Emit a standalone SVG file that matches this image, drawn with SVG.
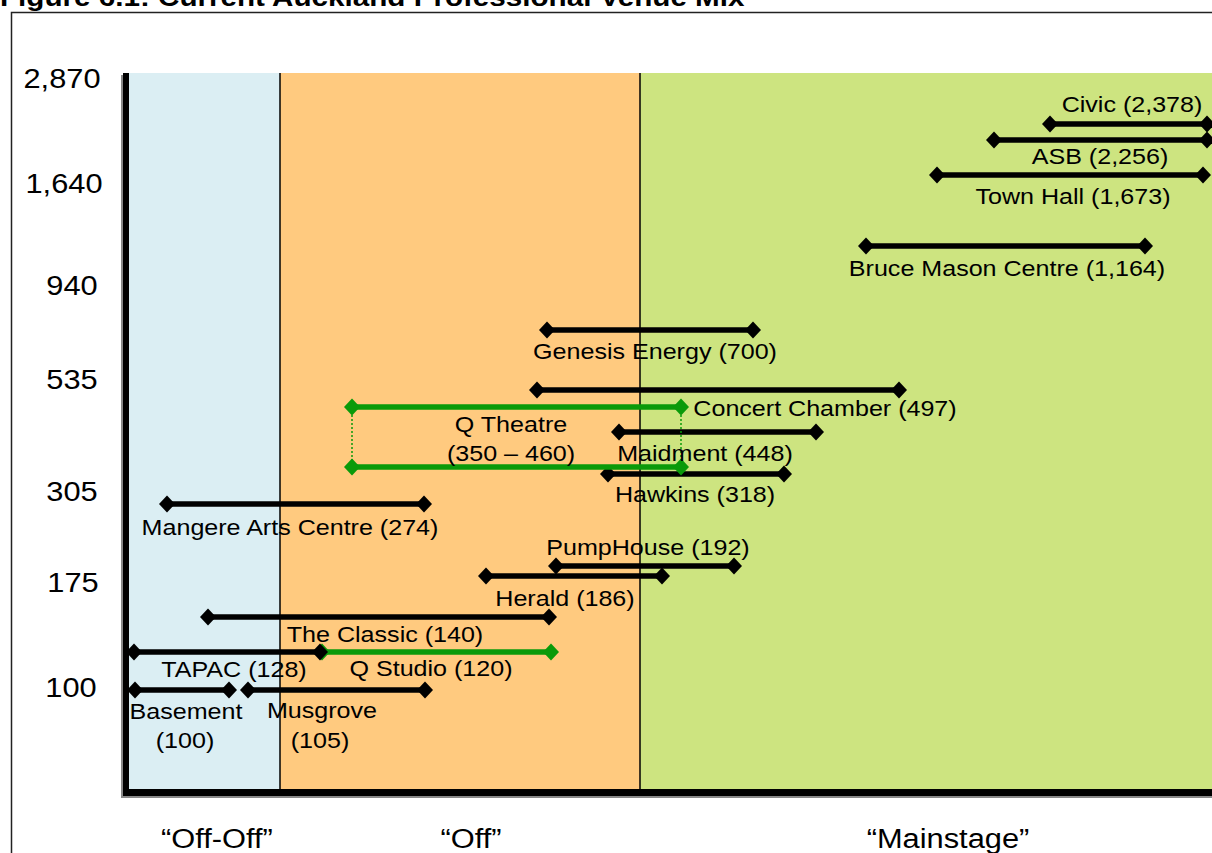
<svg xmlns="http://www.w3.org/2000/svg" xmlns:xlink="http://www.w3.org/1999/xlink" width="1212" height="853" viewBox="0 0 1212 853">
<style>
  text { font-family: "Liberation Sans", Arial, sans-serif; fill: #000; }
  .title { font-size: 26px; font-weight: bold; }
  .ax { font-size: 28px; text-anchor: middle; }
  .cat { font-size: 28px; text-anchor: middle; }
  .lb { font-size: 22px; text-anchor: middle; }
  .bar { stroke: #000; stroke-width: 5.5; fill: none; }
  .gbar { stroke: #0A9A0A; stroke-width: 5.5; fill: none; }
  .gdot { stroke: #0A9A0A; stroke-width: 1.5; stroke-dasharray: 2 2; fill: none; }
  .sep { stroke: #000; stroke-width: 1.5; }
</style>
<defs>
  <path id="dk" d="M0,-8.5 L8,0 L0,8.5 L-8,0 Z" fill="#000"/>
  <path id="dg" d="M0,-8.5 L8,0 L0,8.5 L-8,0 Z" fill="#0A9A0A"/>
</defs>
<rect x="0" y="0" width="1212" height="853" fill="#fff"/>
<text class="title" transform="translate(0,6) scale(1.14,1)">Figure 6.1: Current Auckland Professional Venue Mix</text>
<rect x="11.5" y="12.5" width="1220" height="900" fill="none" stroke="#222" stroke-width="1.5"/>

<g id="background">
  <rect x="129" y="73" width="151" height="716" fill="#DBEEF3"/>
  <rect x="280" y="73" width="360" height="716" fill="#FFCA7F"/>
  <rect x="640" y="73" width="572" height="716" fill="#CDE480"/>
  <line class="sep" x1="280" y1="73" x2="280" y2="789"/>
  <line class="sep" x1="640" y1="73" x2="640" y2="789"/>
</g>

<g id="axes">
  <rect x="121" y="75" width="6" height="723" fill="#888"/>
  <rect x="121" y="792" width="1091" height="6" fill="#888"/>
  <rect x="123" y="73" width="6" height="723" fill="#000"/>
  <rect x="123" y="789" width="1089" height="7" fill="#000"/>
  <text class="ax" transform="translate(62,88) scale(1.1,1)">2,870</text>
  <text class="ax" transform="translate(64,193) scale(1.1,1)">1,640</text>
  <text class="ax" transform="translate(72,295) scale(1.1,1)">940</text>
  <text class="ax" transform="translate(72,389) scale(1.1,1)">535</text>
  <text class="ax" transform="translate(72,501) scale(1.1,1)">305</text>
  <text class="ax" transform="translate(73,592) scale(1.1,1)">175</text>
  <text class="ax" transform="translate(71,697) scale(1.1,1)">100</text>
  <text class="cat" transform="translate(217,848) scale(1.1,1)">“Off-Off”</text>
  <text class="cat" transform="translate(471,848) scale(1.1,1)">“Off”</text>
  <text class="cat" transform="translate(948,848) scale(1.1,1)">“Mainstage”</text>
</g>

<g id="connectors">
  <g id="civic">
    <line class="bar" x1="1050" y1="124" x2="1207" y2="124"/>
    <use xlink:href="#dk" x="1050" y="124"/><use xlink:href="#dk" x="1207" y="124"/>
  </g>
  <g id="asb">
    <line class="bar" x1="994" y1="140" x2="1207" y2="140"/>
    <use xlink:href="#dk" x="994" y="140"/><use xlink:href="#dk" x="1207" y="140"/>
  </g>
  <g id="townhall">
    <line class="bar" x1="937" y1="175" x2="1203" y2="175"/>
    <use xlink:href="#dk" x="937" y="175"/><use xlink:href="#dk" x="1203" y="175"/>
  </g>
  <g id="brucemason">
    <line class="bar" x1="866" y1="246" x2="1145" y2="246"/>
    <use xlink:href="#dk" x="866" y="246"/><use xlink:href="#dk" x="1145" y="246"/>
  </g>
  <g id="genesis">
    <line class="bar" x1="547" y1="330" x2="753" y2="330"/>
    <use xlink:href="#dk" x="547" y="330"/><use xlink:href="#dk" x="753" y="330"/>
  </g>
  <g id="concertchamber">
    <line class="bar" x1="537" y1="390" x2="899" y2="390"/>
    <use xlink:href="#dk" x="537" y="390"/><use xlink:href="#dk" x="899" y="390"/>
  </g>
  <g id="maidment">
    <line class="bar" x1="619" y1="432" x2="816" y2="432"/>
    <use xlink:href="#dk" x="619" y="432"/><use xlink:href="#dk" x="816" y="432"/>
  </g>
  <g id="hawkins">
    <line class="bar" x1="608" y1="474" x2="784" y2="474"/>
    <use xlink:href="#dk" x="608" y="474"/><use xlink:href="#dk" x="784" y="474"/>
  </g>
  <g id="qtheatre">
    <line class="gdot" x1="352" y1="407" x2="352" y2="467"/>
    <line class="gdot" x1="681" y1="407" x2="681" y2="467"/>
    <line class="gbar" x1="352" y1="407" x2="681" y2="407"/>
    <use xlink:href="#dg" x="352" y="407"/><use xlink:href="#dg" x="681" y="407"/>
    <line class="gbar" x1="352" y1="467" x2="681" y2="467"/>
    <use xlink:href="#dg" x="352" y="467"/><use xlink:href="#dg" x="681" y="467"/>
  </g>
  <g id="mangere">
    <line class="bar" x1="167" y1="504" x2="424" y2="504"/>
    <use xlink:href="#dk" x="167" y="504"/><use xlink:href="#dk" x="424" y="504"/>
  </g>
  <g id="pumphouse">
    <line class="bar" x1="556" y1="566" x2="734" y2="566"/>
    <use xlink:href="#dk" x="556" y="566"/><use xlink:href="#dk" x="734" y="566"/>
  </g>
  <g id="herald">
    <line class="bar" x1="486" y1="576" x2="662" y2="576"/>
    <use xlink:href="#dk" x="486" y="576"/><use xlink:href="#dk" x="662" y="576"/>
  </g>
  <g id="classic">
    <line class="bar" x1="208" y1="617" x2="549" y2="617"/>
    <use xlink:href="#dk" x="208" y="617"/><use xlink:href="#dk" x="549" y="617"/>
  </g>
  <g id="qstudio">
    <line class="gbar" x1="322" y1="652" x2="551" y2="652"/>
    <use xlink:href="#dg" x="322" y="652"/><use xlink:href="#dg" x="551" y="652"/>
  </g>
  <g id="tapac">
    <line class="bar" x1="134" y1="652" x2="320" y2="652"/>
    <use xlink:href="#dk" x="134" y="652"/><use xlink:href="#dk" x="320" y="652"/>
  </g>
  <g id="basement">
    <line class="bar" x1="135" y1="690" x2="229" y2="690"/>
    <use xlink:href="#dk" x="135" y="690"/><use xlink:href="#dk" x="229" y="690"/>
  </g>
  <g id="musgrove">
    <line class="bar" x1="248" y1="690" x2="425" y2="690"/>
    <use xlink:href="#dk" x="248" y="690"/><use xlink:href="#dk" x="425" y="690"/>
  </g>
</g>

<g id="labels">
  <text class="lb" transform="translate(1132,112) scale(1.14,1)">Civic (2,378)</text>
  <text class="lb" transform="translate(1100,164) scale(1.14,1)">ASB (2,256)</text>
  <text class="lb" transform="translate(1073,204) scale(1.14,1)">Town Hall (1,673)</text>
  <text class="lb" transform="translate(1007,276) scale(1.14,1)">Bruce Mason Centre (1,164)</text>
  <text class="lb" transform="translate(655,359) scale(1.14,1)">Genesis Energy (700)</text>
  <text class="lb" transform="translate(825,416) scale(1.14,1)">Concert Chamber (497)</text>
  <text class="lb" transform="translate(511,432) scale(1.14,1)">Q Theatre</text>
  <text class="lb" transform="translate(511,461) scale(1.14,1)">(350 – 460)</text>
  <text class="lb" transform="translate(705,461) scale(1.14,1)">Maidment (448)</text>
  <text class="lb" transform="translate(695,502) scale(1.14,1)">Hawkins (318)</text>
  <text class="lb" transform="translate(290,535) scale(1.14,1)">Mangere Arts Centre (274)</text>
  <text class="lb" transform="translate(648,555) scale(1.14,1)">PumpHouse (192)</text>
  <text class="lb" transform="translate(565,606) scale(1.14,1)">Herald (186)</text>
  <text class="lb" transform="translate(385,642) scale(1.14,1)">The Classic (140)</text>
  <text class="lb" transform="translate(234,677) scale(1.14,1)">TAPAC (128)</text>
  <text class="lb" transform="translate(431,676) scale(1.14,1)">Q Studio (120)</text>
  <text class="lb" transform="translate(186,719) scale(1.14,1)">Basement</text>
  <text class="lb" transform="translate(185,748) scale(1.14,1)">(100)</text>
  <text class="lb" transform="translate(322,718) scale(1.14,1)">Musgrove</text>
  <text class="lb" transform="translate(320,748) scale(1.14,1)">(105)</text>
</g>
</svg>
